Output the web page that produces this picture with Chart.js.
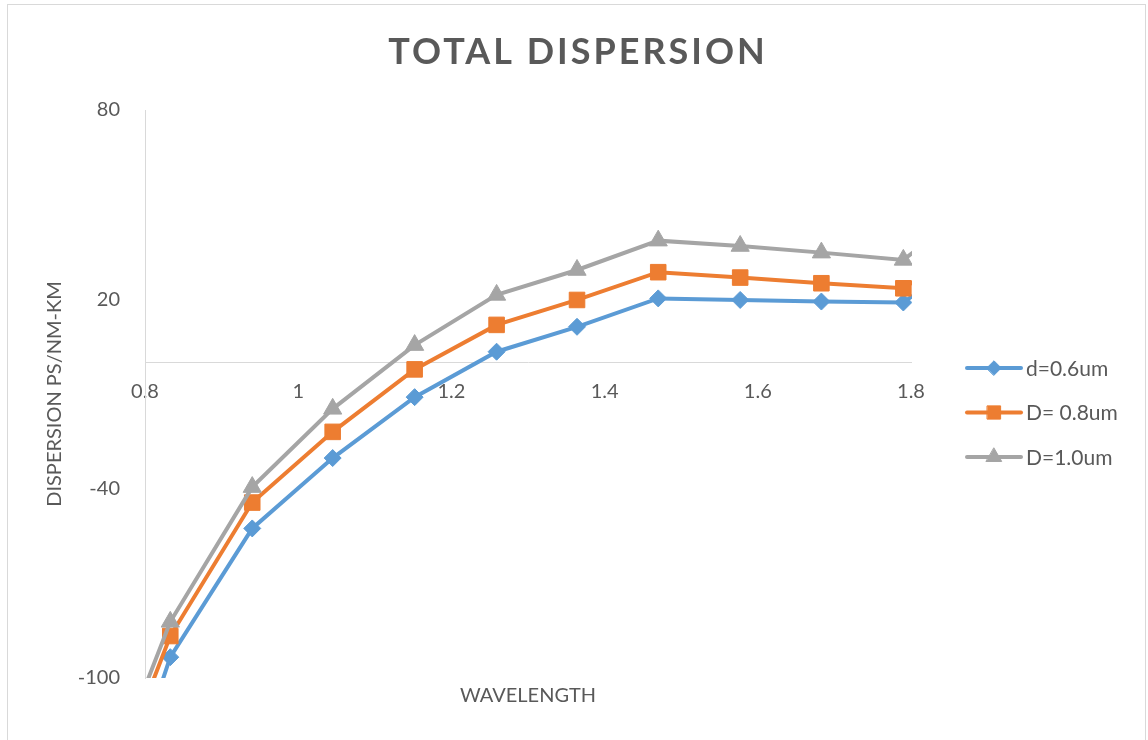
<!DOCTYPE html>
<html>
<head>
<meta charset="utf-8">
<title>Total Dispersion</title>
<script src="https://cdn.jsdelivr.net/npm/chart.js@4.4.1/dist/chart.umd.min.js"></script>
<style>
  html, body { margin: 0; padding: 0; background: #ffffff; overflow: hidden; }
  #wrap { position: relative; width: 1148px; height: 740px; }
  #frame { position: absolute; left: 7px; top: 4px; width: 1139px; height: 780px;
           border: 1px solid #d9d9d9; box-sizing: border-box; }
  #c { position: absolute; left: 0; top: 0; }
</style>
</head>
<body>
<div id="wrap">
  <div id="frame"></div>
  <canvas id="c" width="1148" height="740" style="width:1148px;height:740px"></canvas>
</div>
<script>
// Wavelength samples (µm)
const wavelengths = [0.726, 0.833, 0.940, 1.045, 1.152, 1.259, 1.364, 1.470, 1.577, 1.683, 1.790, 1.896];

// Total dispersion (ps/nm-km) for each core diameter
const seriesNames = ['d=0.6um', 'D= 0.8um', 'D=1.0um'];
const disp06 = [-171, -93.4, -52.6, -30.3, -11.0, 3.4, 11.3, 20.3, 19.8, 19.3, 19.0, 37];
const disp08 = [-154, -86.7, -44.4, -22.0, -2.2, 11.9, 19.8, 28.6, 26.9, 25.1, 23.5, 40];
const disp10 = [-149, -82.2, -39.5, -14.7, 5.5, 21.4, 29.3, 38.6, 36.9, 34.8, 32.5, 52];

// Axis ticks
const xTicks = [0.8, 1, 1.2, 1.4, 1.6, 1.8];
const yTicks = [-100, -40, 20, 80];

const chartTitle = 'TOTAL DISPERSION';
const xTitle = 'WAVELENGTH';
const yTitle = 'DISPERSION PS/NM-KM';

const TEXT = '#595959';
const AXIS = '#d9d9d9';
const FONT = 'Lato';

const toPoints = (ys) => wavelengths.map((x, i) => ({ x: x, y: ys[i] }));

function series(label, ys, color, style, radius, order) {
  return {
    label: label,
    data: toPoints(ys),
    borderColor: color,
    backgroundColor: color,
    borderWidth: 4,
    pointStyle: style,
    pointRadius: radius,
    pointHoverRadius: radius,
    pointBackgroundColor: color,
    pointBorderColor: color,
    pointBorderWidth: 1,
    tension: 0,
    fill: false,
    order: order,
    clip: { left: 0, top: 0, right: 1, bottom: 0 }
  };
}

// Spaced, bold chart heading
const headingPlugin = {
  id: 'heading',
  afterDraw(chart) {
    const ctx = chart.ctx;
    ctx.save();
    ctx.font = 'bold 36px ' + FONT;
    ctx.fillStyle = TEXT;
    if ('letterSpacing' in ctx) ctx.letterSpacing = '3px';
    ctx.textAlign = 'center';
    ctx.textBaseline = 'middle';
    ctx.fillText(chartTitle, 578, 52);
    ctx.restore();
  }
};

// Legend on the right: line sample with marker, then label
const sideLegendPlugin = {
  id: 'sideLegend',
  afterDraw(chart) {
    const ctx = chart.ctx;
    const x0 = 967, x1 = 1021, tx = 1026, y0 = 368, gap = 44.5;
    chart.data.datasets.forEach((ds, i) => {
      const y = y0 + i * gap;
      ctx.save();
      ctx.strokeStyle = ds.borderColor;
      ctx.lineWidth = 4;
      ctx.lineCap = 'round';
      ctx.beginPath();
      ctx.moveTo(x0, y);
      ctx.lineTo(x1, y);
      ctx.stroke();
      ctx.fillStyle = ds.pointBackgroundColor;
      ctx.strokeStyle = ds.pointBorderColor;
      ctx.lineWidth = 1;
      Chart.helpers.drawPoint(ctx, {
        pointStyle: ds.pointStyle,
        radius: ds.pointRadius * 0.85,
        rotation: 0,
        borderWidth: 1
      }, (x0 + x1) / 2, y);
      ctx.fillStyle = TEXT;
      ctx.font = '21px ' + FONT;
      ctx.textAlign = 'left';
      ctx.textBaseline = 'middle';
      ctx.fillText(ds.label, tx, y + 1);
      ctx.restore();
    });
  }
};

const tickFont = { family: FONT, size: 20 };
const titleFont = { family: FONT, size: 20 };

new Chart(document.getElementById('c'), {
  type: 'line',
  data: {
    datasets: [
      series(seriesNames[0], disp06, '#5b9bd5', 'rectRot', 8.5, 3),
      series(seriesNames[1], disp08, '#ed7d31', 'rect', 11, 2),
      series(seriesNames[2], disp10, '#a5a5a5', 'triangle', 10.5, 1)
    ]
  },
  options: {
    responsive: false,
    animation: false,
    devicePixelRatio: 1,
    layout: { padding: { left: 0, right: 237, top: 110, bottom: 0 } },
    plugins: {
      legend: { display: false },
      title: { display: false },
      tooltip: { enabled: false }
    },
    scales: {
      x: {
        type: 'linear',
        position: { y: 0 },
        min: 0.8,
        max: 1.8,
        afterBuildTicks: (s) => { s.ticks = xTicks.map(v => ({ value: v })); },
        ticks: {
          font: tickFont, color: TEXT, padding: 17,
          maxRotation: 0, autoSkip: false,
          callback: (v) => String(v)
        },
        grid: { display: false, drawTicks: false },
        border: { display: true, color: AXIS, width: 1 }
      },
      xTitleAxis: {
        type: 'linear',
        position: 'bottom',
        min: 0,
        max: 1,
        afterFit: (s) => { s.height = 62; },
        ticks: { display: false },
        grid: { display: false, drawTicks: false },
        border: { display: false },
        title: {
          display: true, text: xTitle, font: titleFont, color: TEXT,
          padding: { top: 0, bottom: 32 }
        }
      },
      y: {
        type: 'linear',
        position: 'left',
        min: -100,
        max: 80,
        afterFit: (s) => { s.width = 145; },
        afterBuildTicks: (s) => { s.ticks = yTicks.map(v => ({ value: v })); },
        ticks: { font: tickFont, color: TEXT, padding: 25, callback: (v) => String(v) },
        grid: { display: false, drawTicks: false },
        border: { display: true, color: AXIS, width: 1 },
        title: {
          display: true, text: yTitle, font: titleFont, color: TEXT,
          padding: { top: 43, bottom: 0 }
        }
      }
    }
  },
  plugins: [headingPlugin, sideLegendPlugin]
});
</script>
</body>
</html>
